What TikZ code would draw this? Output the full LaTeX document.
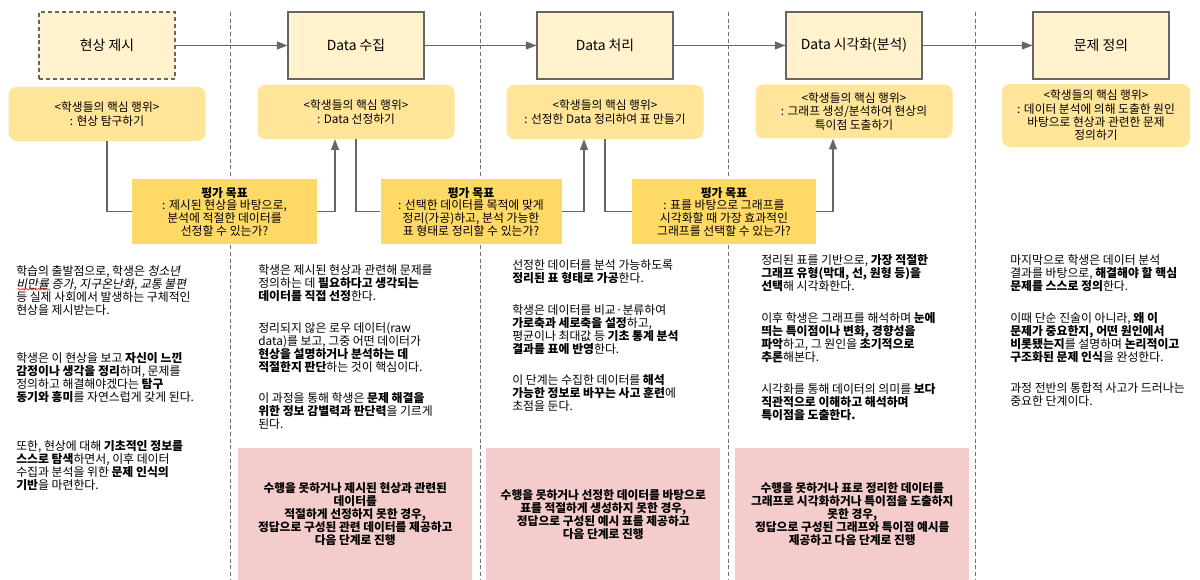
\documentclass[tikz,border=0pt]{standalone}
\usepackage{fontspec}
\setmainfont{Noto Sans CJK KR}[AutoFakeSlant=0.2]
\usetikzlibrary{arrows.meta,decorations.pathmorphing}
\definecolor{linegray}{HTML}{666666}
\definecolor{topfill}{HTML}{FFF2CC}
\definecolor{keyfill}{HTML}{FFE599}
\definecolor{goalfill}{HTML}{FFD966}
\definecolor{pinkfill}{HTML}{F4CCCC}
\definecolor{sepgray}{HTML}{6F6F6F}
\begin{document}
\begin{tikzpicture}[x=0.75pt,y=-0.75pt,
  topbox/.style={draw=linegray,line width=0.8pt,fill=topfill,minimum width=102pt,minimum height=50.25pt,inner sep=0pt,font=\fontsize{10.4}{12}\selectfont},
  keybox/.style={fill=keyfill,rounded corners=6pt,minimum width=147.75pt,minimum height=40.5pt,align=center,inner sep=0pt,font=\fontsize{8.8}{10}\selectfont},
  goalbox/.style={fill=goalfill,minimum height=48.75pt,align=center,inner sep=0pt,font=\fontsize{8.9}{9.5}\selectfont},
  pinkbox/.style={fill=pinkfill,minimum width=175.5pt,minimum height=99pt,align=center,inner sep=0pt,anchor=north west,font=\bfseries\fontsize{8.8}{9.75}\selectfont},
  bodytext/.style={anchor=north west,align=left,inner sep=0pt,font=\fontsize{8.9}{9.75}\selectfont},
  flow/.style={draw=linegray,line width=0.9pt,-{Triangle[length=8pt,width=6pt]}},
  link/.style={draw=linegray,line width=0.9pt},
  sepline/.style={draw=sepgray,line width=0.75pt,dash pattern=on 3pt off 2pt}
]
\useasboundingbox[fill=white] (0,0) rectangle (1200,580);

% column separators
\draw[sepline] (230,12) -- (230,580);
\draw[sepline] (480,12) -- (480,580);
\draw[sepline] (728,12) -- (728,580);
\draw[sepline] (975,12) -- (975,580);

% top process boxes
\node[topbox,dash pattern=on 3pt off 2.2pt] (t1) at (107,45.5) {현상 제시};
\node[topbox] (t2) at (356,45.5) {Data 수집};
\node[topbox] (t3) at (605,45.5) {Data 처리};
\node[topbox] (t4) at (854,45.5) {Data 시각화(분석)};
\node[topbox] (t5) at (1101,45.5) {문제 정의};
\draw[flow] (t1) -- (t2);
\draw[flow] (t2) -- (t3);
\draw[flow] (t3) -- (t4);
\draw[flow] (t4) -- (t5);

% key behaviour boxes
\node[keybox] (k1) at (107,114) {<학생들의 핵심 행위>\\: 현상 탐구하기};
\node[keybox] (k2) at (356,112) {<학생들의 핵심 행위>\\: Data 선정하기};
\node[keybox] (k3) at (605,112) {<학생들의 핵심 행위>\\: 선정한 Data 정리하여 표 만들기};
\node[keybox] (k4) at (854,111.5) {<학생들의 핵심 행위>\\: 그래프 생성/분석하여 현상의\\특이점 도출하기};
\node[keybox,minimum width=141pt,minimum height=47.25pt] (k5) at (1096,115.5) {<학생들의 핵심 행위>\\: 데이터 분석에 의해 도출한 원인\\바탕으로 현상과 관련한 문제\\정의하기};

% evaluation goal boxes
\node[goalbox,minimum width=138.75pt] (gA) at (224.5,211.5) {\textbf{평가 목표}\\: 제시된 현상을 바탕으로,\\분석에 적절한 데이터를\\선정할 수 있는가?};
\node[goalbox,minimum width=135.75pt] (gB) at (471,211.5) {\textbf{평가 목표}\\: 선택한 데이터를 목적에 맞게\\정리(가공)하고, 분석 가능한\\표 형태로 정리할 수 있는가?};
\node[goalbox,minimum width=138pt] (gC) at (724,211.5) {\textbf{평가 목표}\\: 표를 바탕으로 그래프를\\시각화할 때 가장 효과적인\\그래프를 선택할 수 있는가?};

\draw[link] (k1.south) |- (gA.west);
\draw[flow] (gA.east) -| ([xshift=-15.75pt]k2.south);
\draw[link] (k2.south) |- (gB.west);
\draw[flow] (gB.east) -| ([xshift=-15.75pt]k3.south);
\draw[link] (k3.south) |- (gC.west);
\draw[flow] (gC.east) -| ([xshift=-15.75pt]k4.south);

% body texts
\node[bodytext] (b1) at (16,265) {학습의 출발점으로, 학생은 \textit{청소년}\\
\textit{비만률 증가, 지구온난화, 교통 불편}\\
등 실제 사회에서 발생하는 구체적인\\
현상을 제시받는다.\\[26.6pt]
학생은 이 현상을 보고 \textbf{자신이 느낀}\\
\textbf{감정이나 생각을 정리}하며, 문제를\\
정의하고 해결해야겠다는 \textbf{탐구}\\
\textbf{동기와 흥미}를 자연스럽게 갖게 된다.\\[26.6pt]
또한, 현상에 대해 \textbf{기초적인 정보를}\\
\textbf{스스로 탐색}하면서, 이후 데이터\\
수집과 분석을 위한 \textbf{문제 인식의}\\
\textbf{기반}을 마련한다.};
\draw[red,line width=0.45pt,decorate,decoration={snake,amplitude=0.55pt,segment length=3pt}] (17,289.3) -- (50,289.3);

\node[bodytext] (b2) at (258,264) {학생은 제시된 현상과 관련해 문제를\\
정의하는 데 \textbf{필요하다고 생각되는}\\
\textbf{데이터를 직접 선정}한다.\\[14.2pt]
정리되지 않은 로우 데이터(raw\\
data)를 보고, 그중 어떤 데이터가\\
\textbf{현상을 설명하거나 분석하는 데}\\
\textbf{적절한지 판단}하는 것이 핵심이다.\\[14.2pt]
이 과정을 통해 학생은 \textbf{문제 해결을}\\
\textbf{위한 정보 감별력과 판단력}을 기르게\\
된다.};

\node[bodytext] (b3) at (512,259) {선정한 데이터를 분석 가능하도록\\
\textbf{정리된 표 형태로 가공}한다.\\[14.2pt]
학생은 데이터를 비교·분류하여\\
\textbf{가로축과 세로축을 설정}하고,\\
평균이나 최대값 등 \textbf{기초 통계 분석}\\
\textbf{결과를 표에 반영}한다.\\[14.2pt]
이 단계는 수집한 데이터를 \textbf{해석}\\
\textbf{가능한 정보로 바꾸는 사고 훈련}에\\
초점을 둔다.};

\node[bodytext] (b4) at (761,254) {정리된 표를 기반으로, \textbf{가장 적절한}\\
\textbf{그래프 유형(막대, 선, 원형 등)을}\\
\textbf{선택}해 시각화한다.\\[14.2pt]
이후 학생은 그래프를 해석하며 \textbf{눈에}\\
\textbf{띄는 특이점이나 변화, 경향성을}\\
\textbf{파악}하고, 그 원인을 \textbf{초기적으로}\\
\textbf{추론}해본다.\\[14.2pt]
시각화를 통해 데이터의 의미를 \textbf{보다}\\
\textbf{직관적으로 이해하고 해석하며}\\
\textbf{특이점을 도출한다.}};

\node[bodytext] (b5) at (1010,254) {마지막으로 학생은 데이터 분석\\
결과를 바탕으로, \textbf{해결해야 할 핵심}\\
\textbf{문제를 스스로 정의}한다.\\[14.2pt]
이때 단순 진술이 아니라, \textbf{왜 이}\\
\textbf{문제가 중요한지, 어떤 원인에서}\\
\textbf{비롯됐는지}를 설명하며 \textbf{논리적이고}\\
\textbf{구조화된 문제 인식}을 완성한다.\\[14.2pt]
과정 전반의 통합적 사고가 드러나는\\
중요한 단계이다.};

% remediation boxes
\node[pinkbox] (p1) at (238,448) {수행을 못하거나 제시된 현상과 관련된\\데이터를\\적절하게 선정하지 못한 경우,\\정답으로 구성된 관련 데이터를 제공하고\\다음 단계로 진행};
\node[pinkbox] (p2) at (486,448) {수행을 못하거나 선정한 데이터를 바탕으로\\표를 적절하게 생성하지 못한 경우,\\정답으로 구성된 예시 표를 제공하고\\다음 단계로 진행};
\node[pinkbox] (p3) at (735,448) {수행을 못하거나 표로 정리한 데이터를\\그래프로 시각화하거나 특이점을 도출하지\\못한 경우,\\정답으로 구성된 그래프와 특이점 예시를\\제공하고 다음 단계로 진행};
\end{tikzpicture}
\end{document}
